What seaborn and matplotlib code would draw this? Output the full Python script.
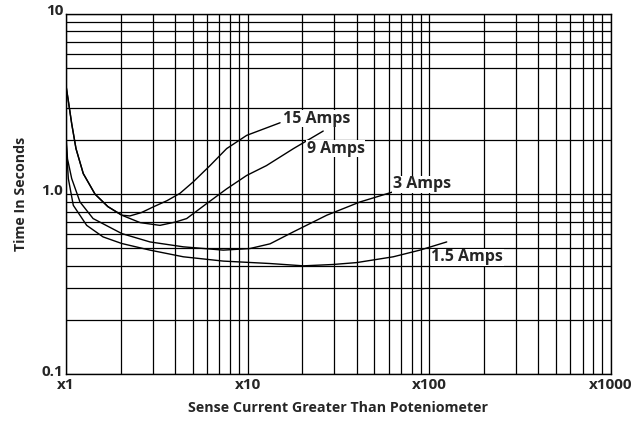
import numpy as np
import pandas as pd
import matplotlib
matplotlib.use('Agg')
import matplotlib.pyplot as plt
import matplotlib.transforms as mtrans
import seaborn as sns
from matplotlib.ticker import FixedLocator, NullFormatter

# curves (x = multiple of poteniometer setting, y = seconds)
amps15_x = [1.0, 1.026, 1.075, 1.135, 1.245, 1.445, 1.70, 2.03, 2.25, 2.6, 3.02, 3.6, 4.24, 5.02, 6.21, 7.67, 9.89, 11.7, 15.1]
amps15_y = [4.0, 3.38, 2.46, 1.79, 1.30, 1.0, 0.853, 0.764, 0.757, 0.79, 0.849, 0.92, 1.01, 1.17, 1.44, 1.79, 2.12, 2.26, 2.49]

amps9_x = [1.0, 1.026, 1.075, 1.135, 1.245, 1.445, 1.70, 2.03, 2.56, 3.29, 4.0, 4.62, 5.95, 7.67, 9.89, 12.7, 17.9, 26.1]
amps9_y = [4.0, 3.38, 2.46, 1.79, 1.30, 1.0, 0.853, 0.764, 0.695, 0.671, 0.70, 0.732, 0.886, 1.07, 1.27, 1.44, 1.79, 2.24]

amps3_x = [1.0, 1.019, 1.075, 1.194, 1.41, 2.03, 2.90, 4.43, 7.35, 10.3, 13.3, 17.9, 27.3, 41.6, 63.4]
amps3_y = [2.1, 1.57, 1.22, 0.905, 0.732, 0.604, 0.543, 0.510, 0.489, 0.499, 0.53, 0.618, 0.764, 0.905, 1.03]

amps1_5_x = [1.0, 1.03, 1.097, 1.30, 1.60, 2.03, 2.90, 4.43, 7.35, 13.3, 20.3, 29.6, 39.9, 63.4, 89, 125]
amps1_5_y = [2.0, 1.22, 0.867, 0.671, 0.579, 0.532, 0.489, 0.449, 0.425, 0.412, 0.400, 0.407, 0.417, 0.449, 0.489, 0.543]

labels = ['15 Amps', '9 Amps', '3 Amps', '1.5 Amps']
label_x = [15.7, 21.2, 63.2, 103]
label_y = [2.62, 1.79, 1.136, 0.445]

x_ticks = [1, 10, 100, 1000]
x_ticklabels = ['x1', 'x10', 'x100', 'x1000']
y_ticks = [0.1, 1, 10]
y_ticklabels = ['0.1', '1.0', '10']
# the top decade has no line at 4 on the original
y_minor = [0.2, 0.3, 0.4, 0.5, 0.6, 0.7, 0.8, 0.9, 2, 3, 5, 6, 7, 8, 9]
x_minor = [m * d for d in (1, 10, 100) for m in range(2, 10)]

sns.set_theme(style='white')
plt.rcParams['font.family'] = ['Open Sans', 'DejaVu Sans']
plt.rcParams['font.weight'] = 'bold'

fig = plt.figure(figsize=(6.34, 4.24), dpi=100)
ax = fig.add_axes([66 / 634, 1 - 374.3 / 424, (610.7 - 66) / 634, (374.3 - 14) / 424])

series = [(amps15_x, amps15_y), (amps9_x, amps9_y), (amps3_x, amps3_y), (amps1_5_x, amps1_5_y)]
for name, (xs, ys) in zip(labels, series):
    df = pd.DataFrame({'x': xs, 'y': ys})
    sns.lineplot(data=df, x='x', y='y', ax=ax, color='black', linewidth=1.0,
                 sort=False, estimator=None, zorder=3)

for t, lx, ly in zip(labels, label_x, label_y):
    ax.text(lx, ly, t, fontsize=11.5, fontweight='bold', ha='left', va='center', zorder=4,
            bbox=dict(facecolor='white', edgecolor='none', pad=0.3))

ax.set_xscale('log')
ax.set_yscale('log')
ax.set_xlim(1, 1000)
ax.set_ylim(0.1, 10)

ax.set_xticks(x_ticks)
ax.set_xticklabels(x_ticklabels)
ax.set_yticks(y_ticks)
ax.set_yticklabels(y_ticklabels)
ax.xaxis.set_minor_locator(FixedLocator(x_minor))
ax.yaxis.set_minor_locator(FixedLocator(y_minor))
ax.xaxis.set_minor_formatter(NullFormatter())
ax.yaxis.set_minor_formatter(NullFormatter())
ax.tick_params(axis='both', which='both', length=0, labelsize=11)
ax.tick_params(axis='x', pad=3)
ax.tick_params(axis='y', pad=2)
shift_up = mtrans.ScaledTranslation(0, 3 / 72, fig.dpi_scale_trans)
for lab in ax.get_xticklabels():
    lab.set_fontweight('bold')
for lab in ax.get_yticklabels():
    lab.set_fontweight('bold')
    lab.set_transform(lab.get_transform() + shift_up)

ax.grid(True, which='both', color='black', linewidth=0.9)
for s in ax.spines.values():
    s.set_color('black')
    s.set_linewidth(1.0)

ax.set_xlabel('Sense Current Greater Than Poteniometer', fontsize=10.3, fontweight='bold', labelpad=6)
ax.set_ylabel('Time In Seconds', fontsize=10.3, fontweight='bold', labelpad=10)

plt.savefig('out.png', dpi=100)
plt.close()
